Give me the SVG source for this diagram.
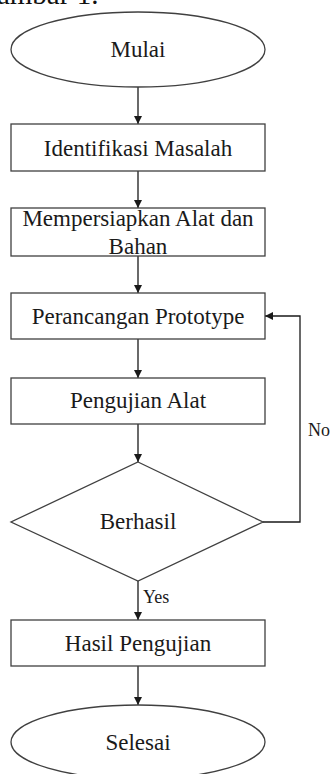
<svg xmlns="http://www.w3.org/2000/svg" width="330" height="774" viewBox="0 0 330 774">
<defs>
<marker id="arr" viewBox="0 0 10 10" refX="10" refY="5" markerWidth="8" markerHeight="8" markerUnits="userSpaceOnUse" orient="auto">
<path d="M0,0 L10,5 L0,10 z" fill="#1a1a1a"/>
</marker>
</defs>
<style>
.shape{fill:#fff;stroke:#404040;stroke-width:1.3}
.lbl{font-family:"Liberation Serif","Times New Roman",serif;font-size:23px;fill:#1a1a1a;text-anchor:middle;dominant-baseline:central}
.small{font-family:"Liberation Serif","Times New Roman",serif;font-size:18px;fill:#1a1a1a}
.conn{fill:none;stroke:#1a1a1a;stroke-width:1.3}
</style>
<rect width="330" height="774" fill="#fff"/>
<text x="-24" y="4" style="font-family:'Liberation Serif','Times New Roman',serif;font-size:29px;fill:#111">Gambar 1.</text>
<g id="connectors">
<line class="conn" x1="138" y1="87" x2="138" y2="124" marker-end="url(#arr)"/>
<line class="conn" x1="138" y1="171" x2="138" y2="208" marker-end="url(#arr)"/>
<line class="conn" x1="138" y1="256" x2="138" y2="293" marker-end="url(#arr)"/>
<line class="conn" x1="138" y1="339" x2="138" y2="378" marker-end="url(#arr)"/>
<line class="conn" x1="138" y1="424" x2="138" y2="462" marker-end="url(#arr)"/>
<line class="conn" x1="138" y1="581" x2="138" y2="620" marker-end="url(#arr)"/>
<line class="conn" x1="138" y1="666" x2="138" y2="705" marker-end="url(#arr)"/>
<polyline class="conn" points="263,522 300,522 300,316 265,316" marker-end="url(#arr)"/>
<text class="small" x="143" y="603">Yes</text>
<text class="small" x="308" y="436">No</text>
</g>
<g id="mulai">
<ellipse class="shape" cx="138" cy="49.5" rx="127" ry="37.5"/>
<text class="lbl" x="138" y="49">Mulai</text>
</g>
<g id="identifikasi">
<rect class="shape" x="11" y="124" width="254" height="47"/>
<text class="lbl" x="138" y="148">Identifikasi Masalah</text>
</g>
<g id="mempersiapkan">
<rect class="shape" x="11" y="208" width="254" height="48"/>
<text class="lbl" x="138" y="218">Mempersiapkan Alat dan</text>
<text class="lbl" x="138" y="246">Bahan</text>
</g>
<g id="perancangan">
<rect class="shape" x="11" y="293" width="254" height="46"/>
<text class="lbl" x="138" y="316">Perancangan Prototype</text>
</g>
<g id="pengujian">
<rect class="shape" x="11" y="378" width="254" height="46"/>
<text class="lbl" x="138" y="400">Pengujian Alat</text>
</g>
<g id="berhasil">
<polygon class="shape" points="138,462 263,522 138,581 11,522"/>
<text class="lbl" x="138" y="521">Berhasil</text>
</g>
<g id="hasil">
<rect class="shape" x="11" y="620" width="254" height="46"/>
<text class="lbl" x="138" y="643">Hasil Pengujian</text>
</g>
<g id="selesai">
<ellipse class="shape" cx="138" cy="742" rx="127" ry="37"/>
<text class="lbl" x="138" y="742">Selesai</text>
</g>
</svg>
